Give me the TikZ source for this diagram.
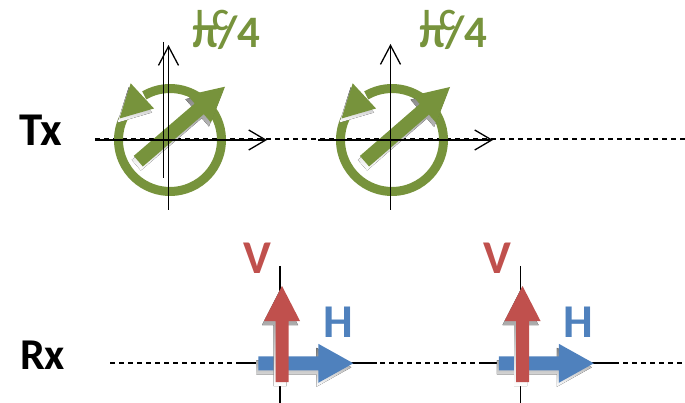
\documentclass[tikz,border=0pt]{standalone}
\usepackage{fontspec}
\setmainfont{Carlito}
\usetikzlibrary{calc,arrows.meta}
\definecolor{olive}{HTML}{77933C}
\definecolor{brick}{HTML}{C0504D}
\definecolor{steel}{HTML}{4F81BD}
\definecolor{shade}{HTML}{404040}
\newcommand\blockarrow[6]{%
  \coordinate (bT) at (#2); \coordinate (bP) at (#3);
  \coordinate (bB) at ($(bP)!#5!(bT)$);
  \coordinate (bT1) at ($(bT)!#4!90:(bP)$);
  \coordinate (bT2) at ($(bT)!#4!-90:(bP)$);
  \coordinate (bB1) at ($(bB)!#4!90:(bP)$);
  \coordinate (bB2) at ($(bB)!#4!-90:(bP)$);
  \coordinate (bH1) at ($(bB)!#6!90:(bP)$);
  \coordinate (bH2) at ($(bB)!#6!-90:(bP)$);
  \fill[shade] ($(bT1)+(-2,4)$)--($(bB1)+(-2,4)$)--($(bH1)+(-2,4)$)--($(bP)+(-2,4)$)--($(bH2)+(-2,4)$)--($(bB2)+(-2,4)$)--($(bT2)+(-2,4)$)--cycle;
  \fill[#1] (bT1)--(bB1)--(bH1)--(bP)--(bH2)--(bB2)--(bT2)--cycle;
}
\begin{document}
\begin{tikzpicture}[x=1pt,y=-1pt,
  axis/.style={line width=1.3pt},
  dashline/.style={line width=1.2pt, dash pattern=on 5pt off 4pt},
  lbl/.style={font=\fontsize{47}{50}\selectfont\bfseries, inner sep=0pt},
  ring/.style={olive, line width=9pt},
  pilbl/.style={anchor=base west, text=olive, font=\fontsize{45}{48}\selectfont\bfseries, inner sep=0pt},
  lclbl/.style={anchor=base west, text=olive, font=\fontsize{31}{34}\selectfont\bfseries, inner sep=0pt}]
\useasboundingbox (0,0) rectangle (685,403);

% row labels
\node[lbl] (tx) at (40.8,130) {Tx};
\node[lbl, font=\fontsize{44}{48}\selectfont\bfseries] (rx) at (42.5,355.3) {Rx};

% ---------- Tx row ----------
\draw[dashline] (95,139) -- (685,139);

% group 1
\draw[ring] (170,140) ++(-120:51.5) arc[start angle=-120, end angle=205, radius=51.5];
\fill[shade] (128.7,87.3) -- (117.5,122.5) -- (152,112.5) -- cycle;
\fill[olive] (130.7,83.3) -- (119.5,118.5) -- (154,108.5) -- cycle;
\blockarrow{olive}{138.3,161.2}{225,86.7}{7pt}{34pt}{18pt}
\draw[axis] (163.3,42) -- (163.3,178);
\draw[axis, -{Straight Barb[length=19pt,width=20pt]}] (168.5,210) -- (168.5,45);
\draw[axis, -{Straight Barb[length=17pt,width=20pt]}] (95,140) -- (267,140);
\node[pilbl] (pi1) at (192,48) {π/4};
\node[lclbl] (lc1) at (196,31) {L\kern3pt C};

% group 2
\draw[ring] (392,140) ++(-120:51.5) arc[start angle=-120, end angle=205, radius=51.5];
\fill[shade] (350.7,87.3) -- (339.5,122.5) -- (374,112.5) -- cycle;
\fill[olive] (352.7,83.3) -- (341.5,118.5) -- (376,108.5) -- cycle;
\blockarrow{olive}{364.5,161.2}{450,87}{7pt}{34pt}{18pt}
\draw[axis, -{Straight Barb[length=19pt,width=20pt]}] (390.5,210) -- (390.5,44);
\draw[axis, -{Straight Barb[length=17pt,width=20pt]}] (318,140) -- (493,140);
\node[pilbl] (pi2) at (419,48) {π/4};
\node[lclbl] (lc2) at (423,31) {L\kern3pt C};

% ---------- Rx row ----------
\draw[dashline] (110,363) -- (685,363);

% group 1
\draw[axis] (240,363) -- (377,363);
\draw[axis] (280,266) -- (280,403);
\blockarrow{steel}{258.3,363.3}{353.3,363.3}{7pt}{35pt}{19.5pt}
\blockarrow{brick}{282,382}{282,286}{6.5pt}{35pt}{18pt}
\node[lbl, text=brick] (v1) at (257,258) {V};
\node[lbl, text=steel] (h1) at (338,322.5) {H};

% group 2
\draw[axis] (480.5,363) -- (617.5,363);
\draw[axis] (520.5,266) -- (520.5,403);
\blockarrow{steel}{498.8,363.3}{593.8,363.3}{7pt}{35pt}{19.5pt}
\blockarrow{brick}{522.5,382}{522.5,286}{6.5pt}{35pt}{18pt}
\node[lbl, text=brick] (v2) at (497.5,258) {V};
\node[lbl, text=steel] (h2) at (578.5,322.5) {H};
\end{tikzpicture}
\end{document}
